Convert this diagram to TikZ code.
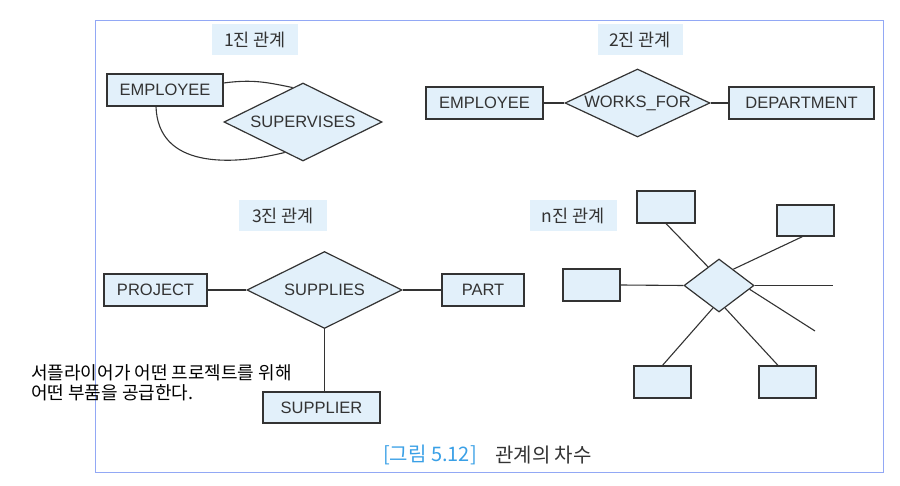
\documentclass[tikz,border=0pt]{standalone}
\usepackage{fontspec}
\setmainfont{Liberation Sans}
\newfontfamily\kr{Noto Sans CJK KR}
\usetikzlibrary{shapes.geometric,calc}
\definecolor{boxfill}{HTML}{E2F0FA}
\definecolor{ttlfill}{HTML}{E3F1FB}
\definecolor{edge}{HTML}{333333}
\definecolor{framecol}{HTML}{92A8F5}
\definecolor{capblue}{HTML}{3AA0E6}
\definecolor{txt}{HTML}{333333}
\tikzset{
  entbox/.style={draw=edge, fill=boxfill, line width=1.2pt, inner sep=0pt, minimum height=32pt, text=txt, font=\fontsize{16.5}{18}\selectfont},
  relbox/.style={diamond, aspect=2, draw=edge, fill=boxfill, line width=1.2pt, inner sep=0pt, text=txt, font=\fontsize{16.5}{18}\selectfont},
  ttl/.style={fill=ttlfill, inner sep=0pt, minimum height=31pt, text=txt, font=\kr\fontsize{17.5}{20}\selectfont},
  conn/.style={draw=edge, line width=1.1pt},
}
\begin{document}
\begin{tikzpicture}[x=1pt,y=-1pt]
\useasboundingbox (0,0) rectangle (900,486);
\draw[framecol, line width=1pt] (95,21) rectangle (883,472);

% titles
\node[ttl, minimum width=86pt] (t1) at (255,40) {1진 관계};
\node[ttl, minimum width=85pt] (t2) at (640,40) {2진 관계};
\node[ttl, minimum width=88pt] (t3) at (283,216) {3진 관계};
\node[ttl, minimum width=87pt] (t4) at (573,216) {n진 관계};

% unary
\node[entbox, minimum width=116pt] (e1) at (165,90) {EMPLOYEE};
\node[relbox, minimum width=158pt, minimum height=78pt] (s1) at (303,122) {SUPERVISES};
\draw[conn] ([yshift=7pt]e1.east) .. controls +(30,-4) and +(-25,-5) .. ($(s1.west)!0.87!(s1.north)$);
\draw[conn] ([xshift=-9pt]e1.south) .. controls (158,168) and (230,166) .. ($(s1.west)!0.77!(s1.south)$);

% binary
\node[entbox, minimum width=117pt] (e2) at (484.5,103) {EMPLOYEE};
\node[relbox, minimum width=145pt, minimum height=68pt] (w2) at (637.5,103) {WORKS\_FOR};
\node[entbox, minimum width=145pt] (dp) at (801.5,103) {DEPARTMENT};
\draw[conn] (e2.east) -- (w2.west);
\draw[conn] (w2.east) -- (dp.west);

% ternary
\node[entbox, minimum width=103pt] (pj) at (155.5,290) {PROJECT};
\node[relbox, minimum width=155pt, minimum height=77pt] (sp) at (324.5,290) {SUPPLIES};
\node[entbox, minimum width=82pt] (pt) at (483,290) {PART};
\node[entbox, minimum width=117pt, minimum height=31pt] (sr) at (321.5,407.5) {SUPPLIER};
\draw[conn] (pj.east) -- (sp.west);
\draw[conn] (sp.east) -- (pt.west);
\draw[conn] (sp.south) -- (sp.south |- sr.north);

\node[anchor=north west, align=left, inner sep=0pt, text=black, font=\kr\fontsize{18}{20.5}\selectfont] (note) at (31,364) {서플라이어가 어떤 프로젝트를 위해\\어떤 부품을 공급한다.};

% n-ary
\node[relbox, minimum width=70pt, minimum height=53pt] (d) at (719,285.5) {};
\node[entbox, minimum width=58pt] (b1) at (666,207) {};
\node[entbox, minimum width=57pt, minimum height=31pt] (b2) at (805.5,220.5) {};
\node[entbox, minimum width=57pt] (b3) at (591.5,285) {};
\node[entbox, minimum width=57pt] (b4) at (662.5,382) {};
\node[entbox, minimum width=57pt] (b5) at (787.5,382) {};
\coordinate (f1) at (833,285.5);
\coordinate (f2) at (815,331);
\draw[conn] (b1.south) -- ($(d.west)!0.69!(d.north)$);
\draw[conn] ([xshift=-3pt]b2.south) -- ($(d.north)!0.4!(d.east)$);
\draw[conn] (b3.east) -- (d.west);
\draw[conn] (d.east) -- (f1);
\draw[conn] ($(d.east)!0.14!(d.south)$) -- (f2);
\draw[conn] ($(d.south)!0.17!(d.west)$) -- (b4.north);
\draw[conn] ($(d.south)!0.17!(d.east)$) -- ([xshift=-9.5pt]b5.north);

% caption
\node[text=capblue, font=\kr\fontsize{20}{22}\selectfont] (c1) at (430,455) {[그림 5.12]};
\node[text=txt, font=\kr\fontsize{20}{22}\selectfont] (c2) at (543.5,455) {관계의 차수};
\end{tikzpicture}
\end{document}
